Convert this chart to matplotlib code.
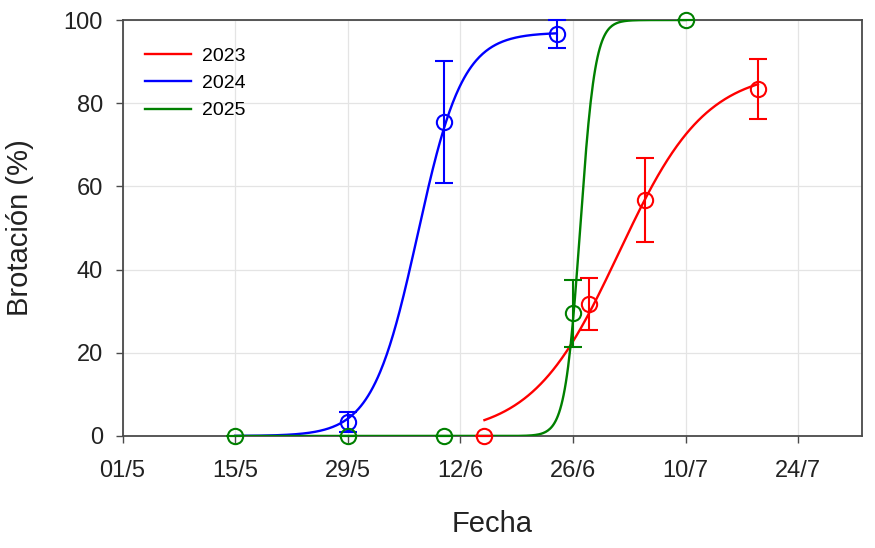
import numpy as np
import matplotlib
matplotlib.use("Agg")
import matplotlib.pyplot as plt

plt.rcParams['font.family'] = ['Liberation Sans', 'DejaVu Sans']

# days counted from 01/5
tick_days = [0, 14, 28, 42, 56, 70, 84]
tick_labels = ["01/5", "15/5", "29/5", "12/6", "26/6", "10/7", "24/7"]

days_2023 = [45, 58, 65, 79]
vals_2023 = [0, 31.7, 56.7, 83.4]
err_2023 = [0, 6.2, 10.1, 7.2]

days_2024 = [28, 40, 54]
vals_2024 = [3.4, 75.5, 96.7]
err_2024 = [2.4, 14.7, 3.4]

days_2025 = [14, 28, 40, 56, 70]
vals_2025 = [0, 0, 0, 29.5, 100]
err_2025 = [0, 0, 0, 8.1, 0]

# fitted sigmoid curves: (max, x0, b, start day, end day)
fit_2023 = (88, 61.7, 5.4, 45, 79)
fit_2024 = (97, 36.7, 2.8, 14, 54)
fit_2025 = (100, 56.9, 0.93, 14, 70)

series = [
    ("2023", "#ff0000", days_2023, vals_2023, err_2023, fit_2023),
    ("2024", "#0000ff", days_2024, vals_2024, err_2024, fit_2024),
    ("2025", "#008000", days_2025, vals_2025, err_2025, fit_2025),
]

fig = plt.figure(figsize=(8.75, 5.48), dpi=100)
ax = fig.add_axes([0.14, 0.2044, 0.8457, 0.7591])

for name, col, d, v, e, fit in series:
    a, x0, b, s, t = fit
    xx = np.linspace(s, t, 400)
    yy = a / (1 + np.exp(-(xx - x0) / b))
    ax.plot(xx, yy, color=col, lw=1.7, label=name, zorder=3)
    ax.errorbar(d, v, yerr=e, fmt='o', mfc='none', mec=col, ecolor=col,
                ms=11, mew=1.5, elinewidth=1.5, capsize=6.5, capthick=1.5,
                zorder=4, clip_on=False)

ax.set_xlim(0, 92)
ax.set_ylim(0, 100)
ax.set_xticks(tick_days)
ax.set_xticklabels(tick_labels)
ax.set_yticks([0, 20, 40, 60, 80, 100])
ax.grid(True, color='#e4e4e4', lw=0.9)
ax.set_axisbelow(True)
for sp in ax.spines.values():
    sp.set_color('#4a4a4a')
    sp.set_linewidth(1.3)
ax.tick_params(direction='out', length=5, width=1, color='#4a4a4a',
               labelsize=17, labelcolor='#222222')
ax.tick_params(axis='x', pad=12)
ax.tick_params(axis='y', pad=9)

ax.set_xlabel("Fecha", fontsize=21, color='#222222')
ax.set_ylabel("Brotación (%)", fontsize=21, color='#222222')
ax.yaxis.set_label_coords(-0.12, 0.5)
ax.xaxis.set_label_coords(0.5, -0.178)

leg = ax.legend(loc='upper left', bbox_to_anchor=(0.007, 0.977), frameon=False,
                fontsize=14, handlelength=2.35, handletextpad=0.55,
                labelspacing=0.5)

fig.savefig("out.png", dpi=100)
